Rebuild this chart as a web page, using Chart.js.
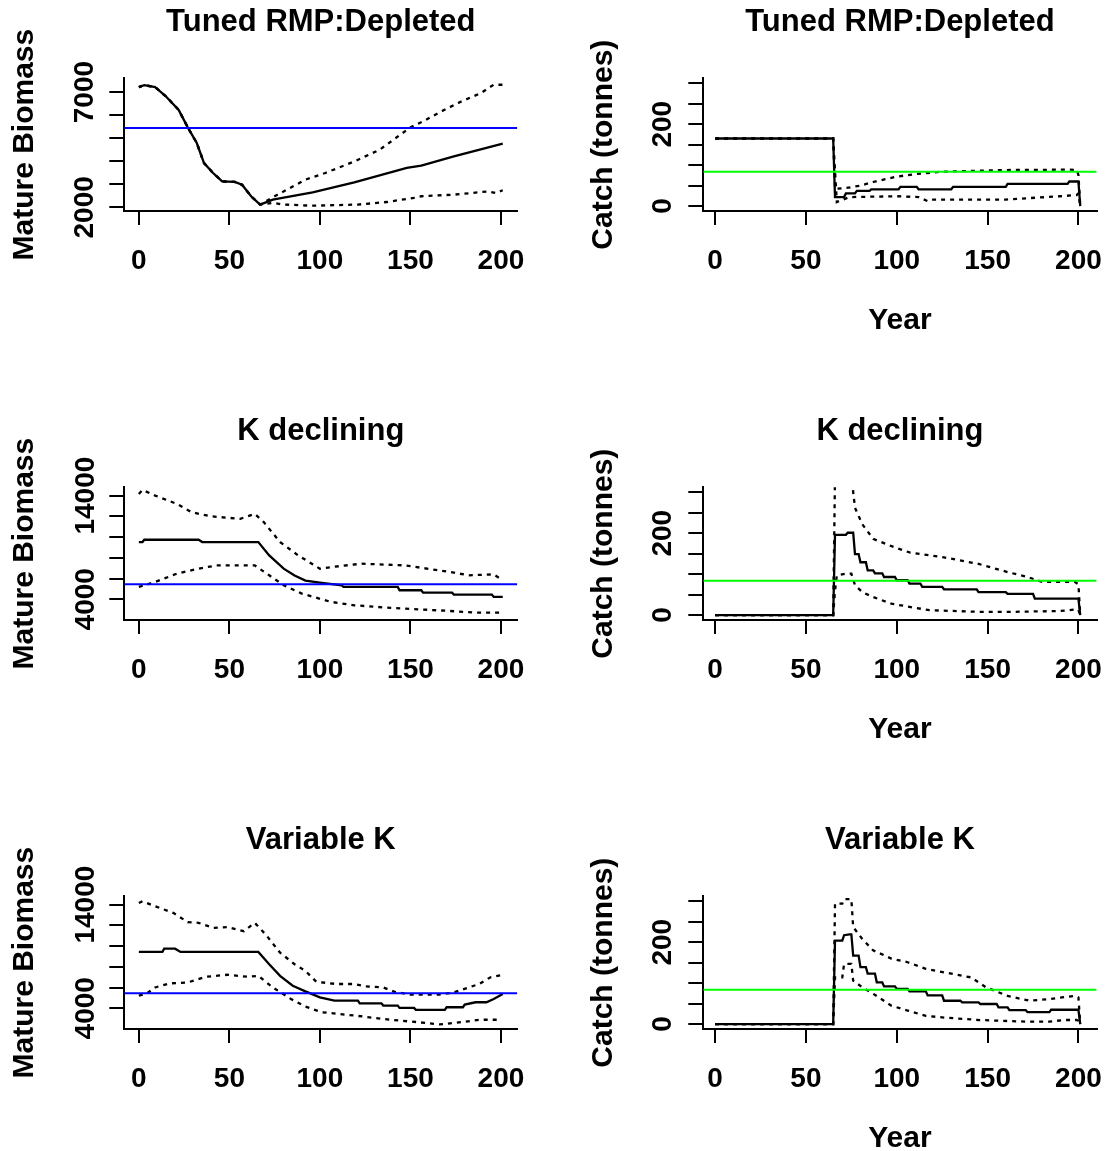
<!DOCTYPE html>
<html>
<head>
<meta charset="utf-8">
<title>Mature biomass and catch projections</title>
<script src="https://cdn.jsdelivr.net/npm/chart.js@4.4.1/dist/chart.umd.min.js"></script>
<style>
  html, body { margin: 0; padding: 0; background: #fff; overflow: hidden; }
  #page { position: relative; width: 1110px; height: 1151px; overflow: hidden; }
  #page canvas { position: absolute; }
</style>
</head>
<body>
<div id="page">
  <canvas id="bioTuned" width="555" height="340" style="left:0;top:0"></canvas>
  <canvas id="catchTuned" width="555" height="340" style="left:555px;top:0"></canvas>
  <canvas id="bioDecl" width="555" height="340" style="left:0;top:409px"></canvas>
  <canvas id="catchDecl" width="555" height="340" style="left:555px;top:409px"></canvas>
  <canvas id="bioVar" width="555" height="340" style="left:0;top:818px"></canvas>
  <canvas id="catchVar" width="555" height="340" style="left:555px;top:818px"></canvas>
</div>
<script>
// x axis: projection year
var yearTicks = [0, 50, 100, 150, 200];
var yearTickLabels = ['0', '50', '100', '150', '200'];

// y axis ticks (R drops the labels that would overlap)
var bioTicksTuned = [2000, 3000, 4000, 5000, 6000, 7000];
var bioLabelsTuned = ['2000', '', '', '', '', '7000'];
var bioTicksK = [4000, 6000, 8000, 10000, 12000, 14000];
var bioLabelsK = ['4000', '', '', '', '', '14000'];
var catchTicks = [0, 50, 100, 150, 200, 250, 300];
var catchLabels = ['0', '', '', '', '200', '', ''];

// reference levels
var bioTarget = 5440;
var catchTarget = 84;

// Tuned RMP:Depleted - mature biomass (median, upper, lower)
var tunedBioMedYears = [0, 3, 9, 15, 22, 27, 32, 36, 41, 46, 53, 57, 62, 67, 74, 96, 119, 148, 156, 174, 201];
var tunedBioMed = [7220, 7300, 7220, 6810, 6230, 5470, 4790, 3920, 3490, 3130, 3100, 2980, 2480, 2120, 2330, 2650, 3080, 3710, 3810, 4210, 4760];
var tunedBioUpYears = [0, 3, 9, 15, 22, 27, 32, 36, 41, 46, 53, 57, 62, 67, 75, 92, 103, 119, 133, 150, 157, 167, 178, 189, 196, 201];
var tunedBioUp = [7220, 7300, 7220, 6810, 6230, 5470, 4790, 3920, 3490, 3130, 3100, 2980, 2480, 2120, 2480, 3200, 3490, 3990, 4500, 5470, 5730, 6160, 6590, 6960, 7320, 7320];
var tunedBioLoYears = [0, 3, 9, 15, 22, 27, 32, 36, 41, 46, 53, 57, 62, 67, 74, 80, 96, 121, 137, 152, 156, 174, 193, 197, 201];
var tunedBioLo = [7220, 7300, 7220, 6810, 6230, 5470, 4790, 3920, 3490, 3130, 3100, 2980, 2480, 2120, 2190, 2120, 2070, 2120, 2230, 2410, 2480, 2550, 2690, 2620, 2740];

// Tuned RMP:Depleted - catch
var tunedCatchMedYears = [0, 65, 66, 71, 72, 77, 78, 85, 86, 101, 102, 111, 112, 130, 131, 160, 161, 194, 195, 200, 201];
var tunedCatchMed = [165, 165, 22, 22, 31, 31, 37, 37, 41, 41, 47, 47, 41, 41, 47, 47, 54, 54, 60, 60, 0];
var tunedCatchUpYears = [0, 65, 66, 72, 80, 88, 100, 110, 125, 160, 195, 199, 200, 201];
var tunedCatchUp = [165, 165, 42, 44, 50, 60, 72, 78, 84, 88, 89, 88, 76, 0];
var tunedCatchLoYears = [0, 65, 67, 74, 100, 112, 117, 120, 160, 190, 199, 200, 201];
var tunedCatchLo = [165, 165, 10, 22, 24, 22, 12, 16, 16, 24, 27, 31, 0];

// K declining - mature biomass
var declBioMedYears = [0, 2, 3, 33, 35, 66, 72, 80, 86, 92, 100, 112, 113, 143, 144, 156, 157, 173, 174, 195, 196, 201];
var declBioMed = [9520, 9520, 9740, 9740, 9520, 9520, 8230, 6950, 6300, 5800, 5610, 5350, 5190, 5190, 4870, 4870, 4640, 4640, 4450, 4450, 4230, 4230];
var declBioUpYears = [0, 2, 9, 21, 29, 39, 45, 56, 64, 69, 78, 88, 100, 107, 123, 147, 174, 182, 196, 201];
var declBioUp = [14160, 14550, 14000, 13200, 12400, 12020, 11920, 11760, 12240, 11440, 9520, 8230, 6950, 7120, 7430, 7270, 6570, 6310, 6400, 5830];
var declBioLoYears = [0, 9, 21, 33, 43, 64, 72, 80, 90, 106, 119, 139, 170, 186, 201];
var declBioLo = [5190, 5670, 6470, 6950, 7270, 7270, 6310, 5350, 4550, 3750, 3420, 3170, 2890, 2720, 2720];

// K declining - catch
var declCatchMedYears = [0, 65, 66, 72, 73, 76, 77, 79, 80, 83, 84, 87, 88, 92, 93, 99, 100, 106, 107, 113, 114, 125, 126, 144, 145, 160, 161, 175, 176, 200, 201];
var declCatchMed = [0, 0, 196, 196, 201, 201, 149, 149, 129, 129, 109, 109, 102, 102, 93, 93, 85, 85, 77, 77, 69, 69, 63, 63, 56, 56, 52, 52, 40, 40, 0];
var declCatchUpYears = [0, 65, 66, 75, 77, 81, 87, 99, 107, 126, 145, 161, 172, 180, 198, 200, 201];
var declCatchUp = [0, 0, 340, 340, 262, 222, 186, 165, 153, 141, 125, 105, 93, 81, 81, 75, 0];
var declCatchLoYears = [0, 65, 66, 67, 72, 75, 77, 81, 87, 97, 107, 118, 145, 165, 190, 199, 200, 201];
var declCatchLo = [0, 0, 60, 97, 101, 101, 73, 56, 44, 28, 20, 12, 8, 8, 10, 14, 12, 0];

// Variable K - mature biomass
var varBioMedYears = [0, 13, 14, 20, 23, 66, 72, 78, 85, 92, 100, 108, 121, 122, 134, 135, 143, 144, 152, 153, 169, 170, 179, 180, 186, 192, 196, 201];
var varBioMed = [9430, 9430, 9750, 9750, 9430, 9430, 8250, 7130, 6170, 5630, 5050, 4740, 4740, 4480, 4480, 4260, 4260, 4040, 4040, 3850, 3850, 4100, 4100, 4350, 4580, 4580, 4900, 5380];
var varBioUpYears = [0, 2, 9, 19, 27, 33, 41, 49, 58, 64, 70, 78, 86, 92, 98, 109, 119, 125, 135, 141, 150, 166, 174, 188, 194, 201];
var varBioUp = [14150, 14320, 13840, 13200, 12310, 12240, 11760, 11830, 11440, 12240, 11130, 9360, 8250, 7610, 6560, 6340, 6340, 6110, 6010, 5600, 5310, 5310, 5530, 6340, 6970, 7230];
var varBioLoYears = [0, 4, 9, 17, 27, 37, 49, 60, 66, 74, 84, 92, 101, 119, 139, 154, 166, 178, 188, 199];
var varBioLo = [5220, 5380, 6010, 6400, 6490, 7040, 7230, 7040, 7130, 6010, 4900, 4160, 3620, 3300, 2890, 2660, 2440, 2660, 2890, 2890];

// Variable K - catch
var varCatchMedYears = [0, 65, 66, 70, 71, 74, 75, 76, 79, 80, 83, 84, 88, 89, 92, 93, 99, 100, 106, 107, 116, 117, 125, 126, 135, 136, 145, 146, 155, 156, 161, 162, 171, 172, 184, 185, 200, 201];
var varCatchMed = [0, 0, 204, 204, 217, 219, 219, 167, 167, 139, 139, 123, 123, 102, 102, 92, 92, 86, 86, 80, 80, 70, 70, 57, 57, 53, 53, 49, 49, 41, 41, 34, 34, 29, 29, 35, 35, 0];
var varCatchUpYears = [0, 65, 66, 70, 71, 75, 76, 81, 87, 97, 106, 116, 130, 141, 149, 161, 173, 184, 198, 200, 201];
var varCatchUp = [0, 0, 294, 294, 305, 305, 237, 208, 180, 160, 151, 135, 123, 114, 90, 69, 57, 61, 69, 65, 0];
var varCatchLoYears = [0, 65, 66, 70, 71, 75, 76, 81, 87, 97, 106, 116, 126, 145, 171, 184, 192, 199, 200, 201];
var varCatchLo = [0, 0, 114, 114, 147, 147, 106, 90, 74, 45, 33, 20, 16, 10, 6, 6, 10, 10, 8, 0];

var FONT = "'Liberation Sans', Arial, Helvetica, sans-serif";
Chart.defaults.font.family = FONT;
Chart.defaults.color = '#000';

function toPoints(xs, ys) {
    return xs.map(function (x, i) { return { x: x, y: ys[i] }; });
}

function fixedTicks(values) {
    return function (axis) {
        axis.ticks = values.map(function (v) { return { value: v }; });
    };
}

function labelsFrom(labels) {
    return function (value, index) { return labels[index]; };
}

// one R-style panel: L-shaped box, ticks outside, rotated y labels
function drawPanel(id, p) {
    var ctx = document.getElementById(id).getContext('2d');
    var right = p.column === 'right';
    var xRange = right ? [-6.5, 210] : [-8.04, 209.04];
    var dash = [4, 5];
    var lw = 2.3;

    return new Chart(ctx, {
        type: 'line',
        data: {
            datasets: [
                { data: toPoints(xRange, [p.ref, p.ref]), borderColor: p.refColor, borderWidth: 2 },
                { data: toPoints(p.medYears, p.med), borderColor: '#000', borderWidth: lw },
                { data: toPoints(p.upYears, p.up), borderColor: '#000', borderWidth: lw, borderDash: dash },
                { data: toPoints(p.loYears, p.lo), borderColor: '#000', borderWidth: lw, borderDash: dash }
            ]
        },
        options: {
            responsive: false,
            animation: false,
            events: [],
            elements: {
                point: { radius: 0 },
                line: { tension: 0, fill: false }
            },
            layout: { padding: { left: 0, top: 0, bottom: 0, right: right ? 13.4 : 37.7 } },
            plugins: {
                legend: { display: false },
                tooltip: { enabled: false },
                title: {
                    display: true,
                    text: p.title,
                    fullSize: false,
                    color: '#000',
                    font: { size: 31, weight: 'bold', lineHeight: 1.2 },
                    padding: { top: 4.3, bottom: 36.8 }
                }
            },
            scales: {
                x: {
                    type: 'linear',
                    bounds: 'data',
                    min: xRange[0],
                    max: xRange[1],
                    afterBuildTicks: fixedTicks(yearTicks),
                    afterFit: function (s) { s.height = 129; },
                    grid: { drawOnChartArea: false, drawTicks: true, tickLength: 14, color: '#000', lineWidth: 2 },
                    border: { display: true, color: '#000', width: 2 },
                    ticks: {
                        autoSkip: false,
                        maxRotation: 0,
                        padding: 0,
                        color: '#000',
                        font: { size: 28, weight: 'bold', lineHeight: 2.6 },
                        callback: labelsFrom(yearTickLabels)
                    },
                    title: {
                        display: right,
                        text: 'Year',
                        color: '#000',
                        font: { size: 30, weight: 'bold', lineHeight: 1.2 },
                        padding: { top: 0, bottom: 1.7 }
                    }
                },
                y: {
                    type: 'linear',
                    bounds: 'data',
                    min: p.yRange[0],
                    max: p.yRange[1],
                    afterBuildTicks: fixedTicks(p.yTicks),
                    afterFit: function (s) { s.width = right ? 148.3 : 124.3; },
                    grid: { drawOnChartArea: false, drawTicks: true, tickLength: 15, color: '#000', lineWidth: 2 },
                    border: { display: true, color: '#000', width: 2 },
                    ticks: {
                        autoSkip: false,
                        minRotation: 90,
                        maxRotation: 90,
                        crossAlign: 'center',
                        padding: p.yTickPad,
                        color: '#000',
                        font: { size: 28, weight: 'bold' },
                        callback: labelsFrom(p.yLabels)
                    },
                    title: {
                        display: true,
                        text: p.yTitle,
                        color: '#000',
                        font: { size: 30, weight: 'bold', lineHeight: 1.2 },
                        padding: { top: right ? 30.6 : 7, bottom: 0 }
                    }
                }
            }
        }
    });
}

var bioPanel = { column: 'left', yTitle: 'Mature Biomass', ref: bioTarget, refColor: '#0000ff' };
var catchPanel = { column: 'right', yTitle: 'Catch (tonnes)', ref: catchTarget, refColor: '#00ff00',
    yRange: [-12, 312], yTicks: catchTicks, yLabels: catchLabels, yTickPad: 1.4 };

function panel(base, extra) {
    return Object.assign({}, base, extra);
}

drawPanel('bioTuned', panel(bioPanel, {
    title: 'Tuned RMP:Depleted', yRange: [1840, 7600], yTicks: bioTicksTuned, yLabels: bioLabelsTuned, yTickPad: -7.1,
    medYears: tunedBioMedYears, med: tunedBioMed, upYears: tunedBioUpYears, up: tunedBioUp, loYears: tunedBioLoYears, lo: tunedBioLo
}));
drawPanel('catchTuned', panel(catchPanel, {
    title: 'Tuned RMP:Depleted',
    medYears: tunedCatchMedYears, med: tunedCatchMed, upYears: tunedCatchUpYears, up: tunedCatchUp, loYears: tunedCatchLoYears, lo: tunedCatchLo
}));
drawPanel('bioDecl', panel(bioPanel, {
    title: 'K declining', yRange: [2000, 14800], yTicks: bioTicksK, yLabels: bioLabelsK, yTickPad: -16.4,
    medYears: declBioMedYears, med: declBioMed, upYears: declBioUpYears, up: declBioUp, loYears: declBioLoYears, lo: declBioLo
}));
drawPanel('catchDecl', panel(catchPanel, {
    title: 'K declining',
    medYears: declCatchMedYears, med: declCatchMed, upYears: declCatchUpYears, up: declCatchUp, loYears: declCatchLoYears, lo: declCatchLo
}));
drawPanel('bioVar', panel(bioPanel, {
    title: 'Variable K', yRange: [2000, 14800], yTicks: bioTicksK, yLabels: bioLabelsK, yTickPad: -16.4,
    medYears: varBioMedYears, med: varBioMed, upYears: varBioUpYears, up: varBioUp, loYears: varBioLoYears, lo: varBioLo
}));
drawPanel('catchVar', panel(catchPanel, {
    title: 'Variable K',
    medYears: varCatchMedYears, med: varCatchMed, upYears: varCatchUpYears, up: varCatchUp, loYears: varCatchLoYears, lo: varCatchLo
}));
</script>
</body>
</html>
